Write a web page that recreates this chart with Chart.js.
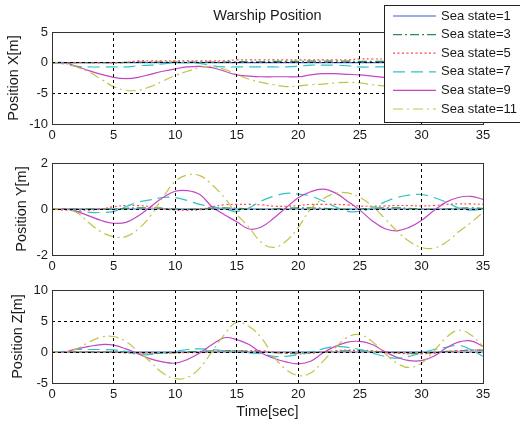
<!DOCTYPE html>
<html>
<head>
<meta charset="utf-8">
<script src="https://cdn.jsdelivr.net/npm/chart.js@4.4.1/dist/chart.umd.min.js"></script>
<style>
  html, body { margin: 0; padding: 0; background: #fff; }
  #wrap { position: relative; width: 520px; height: 426px; overflow: hidden; background: #fff; }
  #wrap canvas { position: absolute; left: 0; }
</style>
</head>
<body>
<div id="wrap">
  <canvas id="chart_x" width="520" height="150" style="top:0"></canvas>
  <canvas id="chart_y" width="520" height="140" style="top:140px"></canvas>
  <canvas id="chart_z" width="520" height="156" style="top:270px"></canvas>
</div>
<script>
// time axis (sec)
const timeSec = [0,1,2,3,4,5,6,7,8,9,10,11,12,13,14,15,16,17,18,19,20,21,22,23,24,25,26,27,28,29,30,31,32,33,34,35];

const seaLabels = ['Sea state=1', 'Sea state=3', 'Sea state=5', 'Sea state=7', 'Sea state=9', 'Sea state=11'];

// surge X [m]
const posX_ss1  = [0,0,0,0,0,0,0,0,0,0,0,0,0,0,0,0,0,0,0,0,0,0,0,0,0,0,0,0,0,0,0,0,0,0,0,0];
const posX_ss3  = [0,0,0,0,0,0,0.05,0.1,0.1,0.1,0.1,0.1,0.1,0.1,0.1,0.15,0.15,0.15,0.2,0.2,0.2,0.25,0.25,0.25,0.25,0.2,0.2,0.2,0.2,0.2,0.2,0.2,0.2,0.2,0.2,0.2];
const posX_ss5  = [0,0,0,0,0,0,0.05,0.3,0.3,0.3,0.3,0.3,0.3,0.3,0.3,0.45,0.45,0.45,0.45,0.45,0.45,0.45,0.45,0.45,0.45,0.6,0.6,0.6,0.6,0.6,0.6,0.6,0.6,0.6,0.6,0.6];
const posX_ss7  = [0,-0.2,-0.6,-0.7,-0.7,-0.7,-0.7,-0.5,-0.4,-0.2,0,0,-0.1,-0.5,-0.7,-0.7,-0.7,-0.7,-0.7,-0.7,-0.6,-0.4,-0.4,-0.4,-0.5,-0.7,-0.7,-0.7,-0.7,-0.7,-0.7,-0.7,-0.7,-0.7,-0.7,-0.7];
const posX_ss9  = [0,0,-0.6,-1.3,-1.9,-2.4,-2.6,-2.4,-1.9,-1.4,-1.0,-0.7,-0.6,-0.8,-1.4,-2.0,-2.2,-2.3,-2.3,-2.3,-2.3,-2.0,-1.8,-1.8,-1.9,-2.0,-2.2,-2.4,-2.5,-2.5,-2.4,-2.2,-2.0,-2.0,-2.1,-2.2];
const posX_ss11 = [0,-0.1,-0.7,-1.5,-2.7,-3.9,-4.5,-4.5,-3.9,-3.0,-2.1,-1.4,-0.8,-0.6,-1.1,-1.9,-2.7,-3.2,-3.6,-3.9,-3.8,-3.6,-3.5,-3.3,-3.2,-3.3,-3.6,-3.8,-3.8,-3.6,-3.3,-3.0,-3.0,-3.2,-3.4,-3.6];

// sway Y [m]
const posY_ss1  = [0,0,0,0,0,0,0,0,0,0,0,0,0,0,0,0,0,0,0,0,0,0,0,0,0,0,0,0,0,0,0,0,0,0,0,0];
const posY_ss3  = [0,0,0,0,0,0,0.03,0.05,0.05,0.03,0,-0.02,0,0.04,0.05,0.03,0,-0.02,0,0.03,0.05,0.05,0.03,0,-0.02,0,0.03,0.05,0.05,0.03,0,-0.02,0,0.03,0.05,0.03];
const posY_ss5  = [0,-0.05,-0.05,-0.05,0,0.1,0.15,0.15,0.1,0.02,-0.05,-0.05,-0.03,0.1,0.18,0.2,0.2,0.18,0.12,0.12,0.15,0.2,0.2,0.2,0.18,0.13,0.12,0.13,0.15,0.15,0.13,0.15,0.2,0.22,0.22,0.2];
const posY_ss7  = [0,0,-0.1,-0.15,-0.15,-0.1,0.1,0.3,0.4,0.5,0.5,0.37,0.2,0.1,0,-0.1,0.05,0.35,0.55,0.68,0.65,0.57,0.35,0.1,-0.1,-0.1,0.05,0.3,0.5,0.6,0.63,0.5,0.3,0.05,-0.05,0];
const posY_ss9  = [0,0,-0.1,-0.3,-0.5,-0.62,-0.58,-0.3,0.1,0.5,0.77,0.8,0.63,0.1,-0.25,-0.55,-0.87,-0.78,-0.4,0.05,0.49,0.75,0.86,0.7,0.34,-0.05,-0.51,-0.85,-0.95,-0.8,-0.5,-0.08,0.3,0.5,0.55,0.42];
const posY_ss11 = [0,0,-0.15,-0.6,-1.0,-1.2,-1.2,-0.87,-0.3,0.5,1.2,1.48,1.45,1.05,0.5,-0.23,-0.8,-1.45,-1.67,-1.4,-0.8,0,0.44,0.68,0.7,0.5,0.13,-0.4,-0.95,-1.4,-1.67,-1.7,-1.45,-1.0,-0.6,-0.15];

// heave Z [m]
const posZ_ss1  = [0,0,0,0,0,0,0,0,0,0,0,0,0,0,0,0,0,0,0,0,0,0,0,0,0,0,0,0,0,0,0,0,0,0,0,0];
const posZ_ss3  = [0,0,0,0,0,0,0,-0.1,-0.2,-0.2,-0.1,0,0.1,0.2,0.2,0.2,0.1,0,-0.1,-0.2,-0.2,-0.1,0,0.1,0.2,0.2,0.1,0,-0.1,-0.2,-0.2,-0.1,0.1,0.2,0.3,0.3];
const posZ_ss5  = [0,0,0,0,0,-0.05,-0.15,-0.2,-0.2,-0.2,-0.15,-0.1,-0.1,0,0.1,0.2,0.2,0.2,0,-0.2,-0.3,-0.2,0,0.2,0.3,0.3,0.2,0,-0.2,-0.3,-0.3,-0.2,0,0.2,0.3,0.3];
const posZ_ss7  = [0,0.1,0.4,0.4,0.4,0.35,0.1,-0.4,-0.4,-0.15,0.1,0.4,0.5,0.4,0.2,0,-0.15,-0.3,-0.7,-0.7,-0.4,0,0.5,0.9,0.75,0.4,-0.15,-0.7,-1.0,-0.7,-0.15,0.4,0.75,1.1,0.4,-0.7];
const posZ_ss9  = [0,0,0.5,0.9,1.2,1.1,0.5,-0.3,-1.1,-1.6,-1.8,-1.2,-0.15,1.2,2.3,2.0,1.2,-0.15,-1.0,-1.6,-1.9,-1.5,-0.15,0.9,1.6,1.7,1.2,0.1,-0.85,-1.4,-1.4,-0.7,0.65,1.6,1.8,0.9];
const posZ_ss11 = [0,0,0.5,1.6,2.4,2.5,1.7,0.1,-1.6,-3.4,-4.3,-4.1,-2.6,0.1,2.8,4.8,4.1,2.3,-0.7,-2.8,-3.8,-3.4,-1.5,0.65,2.4,2.8,1.7,-0.15,-1.8,-2.5,-1.8,0.1,2.3,3.5,2.8,0.9];

// line styles per sea state
const lineStyles = [
  { color: 'rgb(60,95,200)',  dash: [] },
  { color: 'rgb(40,140,85)',  dash: [9,3,2,3] },
  { color: 'rgb(255,70,70)',  dash: [2,2.5] },
  { color: 'rgb(50,195,195)', dash: [12,6] },
  { color: 'rgb(195,70,195)', dash: [] },
  { color: 'rgb(195,195,70)', dash: [10,4,2,4] }
];

Chart.defaults.font.family = '"Liberation Sans", Arial, sans-serif';
Chart.defaults.font.size = 13;
Chart.defaults.color = '#1a1a1a';

function makeDatasets(series) {
  return series.map((vals, i) => ({
    label: seaLabels[i],
    data: vals.map((v, k) => ({ x: timeSec[k], y: v })),
    borderColor: lineStyles[i].color,
    borderDash: lineStyles[i].dash,
    borderWidth: 1.2,
    pointRadius: 0,
    fill: false,
    tension: 0.4,
    order: series.length - i
  }));
}

// grid only on the inner ticks, the box is drawn by the frame plugin
function innerGrid(min, max) {
  return c => (c.tick && (c.tick.value === min || c.tick.value === max)) ? 'rgba(0,0,0,0)' : '#000';
}

function makeScales(o) {
  return {
    x: {
      type: 'linear', min: 0, max: 35,
      ticks: { stepSize: 5, padding: 4 },
      grid: { color: innerGrid(0, 35), drawTicks: false, z: 1 },
      border: { display: false, dash: [3, 3] },
      title: o.xTitle ? { display: true, text: o.xTitle, font: { size: 14.5 }, padding: { top: 0, bottom: 5.3 } } : { display: false },
      afterFit: s => { s.height = o.xHeight; }
    },
    y: {
      min: o.yMin, max: o.yMax,
      ticks: { stepSize: o.yStep, padding: 4 },
      grid: { color: innerGrid(o.yMin, o.yMax), drawTicks: false, z: 1 },
      border: { display: false, dash: [3, 3] },
      title: { display: true, text: o.yTitle, font: { size: 14.5 }, padding: { top: o.yTitleOffset, bottom: 0 } },
      afterFit: s => { s.width = 52; }
    }
  };
}

const frame = {
  id: 'frame',
  afterDraw(chart) {
    const a = chart.chartArea;
    const ctx = chart.ctx;
    ctx.save();
    ctx.strokeStyle = '#333';
    ctx.lineWidth = 1;
    ctx.setLineDash([]);
    ctx.strokeRect(Math.round(a.left) + 0.5, Math.round(a.top) + 0.5,
                   Math.round(a.right - a.left), Math.round(a.bottom - a.top));
    ctx.restore();
  }
};

// boxed legend laid over the upper right corner of the first plot
const legendBox = {
  id: 'legendBox',
  afterDraw(chart) {
    const ctx = chart.ctx;
    ctx.save();
    ctx.fillStyle = '#fff';
    ctx.fillRect(384.5, 5.5, 140, 117);
    ctx.strokeStyle = '#222';
    ctx.lineWidth = 1;
    ctx.setLineDash([]);
    ctx.strokeRect(384.5, 5.5, 140, 117);
    ctx.font = '13px "Liberation Sans", Arial, sans-serif';
    ctx.textBaseline = 'middle';
    chart.data.datasets.forEach((ds, i) => {
      const y = 16 + i * 18.6;
      ctx.strokeStyle = ds.borderColor;
      ctx.lineWidth = ds.borderWidth;
      ctx.setLineDash(ds.borderDash);
      ctx.beginPath();
      ctx.moveTo(393, y);
      ctx.lineTo(436, y);
      ctx.stroke();
      ctx.setLineDash([]);
      ctx.fillStyle = '#1a1a1a';
      ctx.fillText(ds.label, 441, y);
    });
    ctx.restore();
  }
};

function baseOptions(scales, padTop, titleText) {
  return {
    responsive: false,
    animation: false,
    devicePixelRatio: 1,
    layout: { padding: { top: padTop, right: 37, left: 0, bottom: 0 } },
    scales: scales,
    plugins: {
      legend: { display: false },
      tooltip: { enabled: false },
      title: titleText ? {
        display: true, text: titleText, fullSize: false,
        font: { size: 14.5, weight: 'normal' }, color: '#1a1a1a',
        padding: { top: 7.3, bottom: 7.3 }
      } : { display: false }
    }
  };
}

new Chart(document.getElementById('chart_x'), {
  type: 'line',
  data: { datasets: makeDatasets([posX_ss1, posX_ss3, posX_ss5, posX_ss7, posX_ss9, posX_ss11]) },
  options: baseOptions(makeScales({ yMin: -10, yMax: 5, yStep: 5, yTitle: 'Position X[m]', yTitleOffset: 5.5, xHeight: 26 }), 0, 'Warship Position'),
  plugins: [frame, legendBox]
});

new Chart(document.getElementById('chart_y'), {
  type: 'line',
  data: { datasets: makeDatasets([posY_ss1, posY_ss3, posY_ss5, posY_ss7, posY_ss9, posY_ss11]) },
  options: baseOptions(makeScales({ yMin: -2, yMax: 2, yStep: 2, yTitle: 'Position Y[m]', yTitleOffset: 13.3, xHeight: 25 }), 23),
  plugins: [frame]
});

new Chart(document.getElementById('chart_z'), {
  type: 'line',
  data: { datasets: makeDatasets([posZ_ss1, posZ_ss3, posZ_ss5, posZ_ss7, posZ_ss9, posZ_ss11]) },
  options: baseOptions(makeScales({ yMin: -5, yMax: 10, yStep: 5, yTitle: 'Position Z[m]', yTitleOffset: 9.5, xHeight: 43, xTitle: 'Time[sec]' }), 20),
  plugins: [frame]
});
</script>
</body>
</html>
